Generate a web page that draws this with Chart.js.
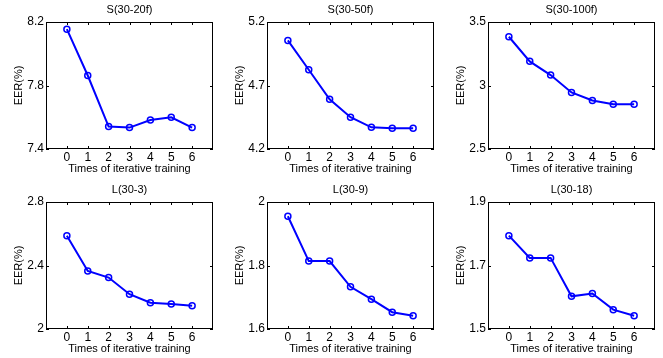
<!DOCTYPE html>
<html>
<head>
<meta charset="utf-8">
<script src="https://cdn.jsdelivr.net/npm/chart.js@4"></script>
<style>
  body { margin: 0; background: #fff; }
  #wrap { position: relative; width: 663px; height: 358px; overflow: hidden; }
  .cell { position: absolute; width: 221px; height: 179px; }
</style>
</head>
<body>
<div id="wrap">
  <div class="cell" style="left:0;top:0"><canvas id="c0" width="221" height="179"></canvas></div>
  <div class="cell" style="left:221px;top:0"><canvas id="c1" width="221" height="179"></canvas></div>
  <div class="cell" style="left:442px;top:0"><canvas id="c2" width="221" height="179"></canvas></div>
  <div class="cell" style="left:0;top:180px"><canvas id="c3" width="221" height="179"></canvas></div>
  <div class="cell" style="left:221px;top:180px"><canvas id="c4" width="221" height="179"></canvas></div>
  <div class="cell" style="left:442px;top:180px"><canvas id="c5" width="221" height="179"></canvas></div>
</div>
<script>
/* ===============================
   DATA
================================ */
const iterations = [0, 1, 2, 3, 4, 5, 6];
const titles = ["S(30-20f)", "S(30-50f)", "S(30-100f)", "L(30-3)", "L(30-9)", "L(30-18)"];

const eerS20 = [8.155, 7.863, 7.541, 7.535, 7.583, 7.600, 7.535];
const eerS50 = [5.055, 4.824, 4.592, 4.450, 4.371, 4.363, 4.363];
const eerS100 = [3.384, 3.190, 3.082, 2.945, 2.882, 2.853, 2.853];
const eerL3 = [2.587, 2.366, 2.324, 2.219, 2.166, 2.158, 2.147];
const eerL9 = [1.955, 1.814, 1.814, 1.733, 1.694, 1.653, 1.642];
const eerL18 = [1.794, 1.724, 1.724, 1.603, 1.612, 1.561, 1.542];

const yTicksS20 = [7.4, 7.8, 8.2];
const yTicksS50 = [4.2, 4.7, 5.2];
const yTicksS100 = [2.5, 3, 3.5];
const yTicksL3 = [2, 2.4, 2.8];
const yTicksL9 = [1.6, 1.8, 2];
const yTicksL18 = [1.5, 1.7, 1.9];

const series = [eerS20, eerS50, eerS100, eerL3, eerL9, eerL18];
const yTicks = [yTicksS20, yTicksS50, yTicksS100, yTicksL3, yTicksL9, yTicksL18];

Chart.defaults.font.family = '"Liberation Sans", Arial, sans-serif';
Chart.defaults.font.size = 11;
Chart.defaults.color = "#000";

/* ===============================
   BOX + INWARD TICKS + TITLE
================================ */
const matlabBox = {
  id: "matlabBox",
  afterDraw(chart, args, opts) {
    const { ctx, chartArea: a, scales: { x, y } } = chart;
    ctx.save();
    ctx.strokeStyle = "#000";
    ctx.lineWidth = 1;
    ctx.strokeRect(a.left + 0.5, a.top + 0.5, a.right - a.left - 1, a.bottom - a.top - 1);
    ctx.beginPath();
    x.ticks.forEach(t => {
      const px = Math.round(x.getPixelForValue(t.value)) + 0.5;
      ctx.moveTo(px, a.bottom); ctx.lineTo(px, a.bottom - 3);
      ctx.moveTo(px, a.top); ctx.lineTo(px, a.top + 3);
    });
    y.ticks.forEach(t => {
      const py = Math.round(y.getPixelForValue(t.value)) + 0.5;
      ctx.moveTo(a.left, py); ctx.lineTo(a.left + 3, py);
      ctx.moveTo(a.right, py); ctx.lineTo(a.right - 3, py);
    });
    ctx.stroke();
    // subplot title
    ctx.fillStyle = "#000";
    ctx.font = '11px "Liberation Sans", Arial, sans-serif';
    ctx.textAlign = "center";
    ctx.textBaseline = "middle";
    ctx.fillText(opts.title, (a.left + a.right) / 2, 10);
    ctx.restore();
  }
};

/* ===============================
   SIX SUBPLOTS
================================ */
series.forEach((vals, i) => {
  const ticks = yTicks[i];
  new Chart(document.getElementById("c" + i), {
    type: "line",
    data: {
      datasets: [{
        data: iterations.map((v, k) => ({ x: v, y: vals[k] })),
        borderColor: "#0000ff",
        borderWidth: 2,
        pointStyle: "circle",
        pointRadius: 3,
        pointBorderWidth: 1.5,
        pointBackgroundColor: "rgba(0,0,0,0)",
        pointBorderColor: "#0000ff",
        tension: 0,
      }],
    },
    options: {
      responsive: false,
      animation: false,
      layout: { padding: { left: 0, right: 8, top: 22, bottom: 0 } },
      plugins: {
        legend: { display: false },
        tooltip: { enabled: false },
        matlabBox: { title: titles[i] },
      },
      scales: {
        x: {
          type: "linear",
          min: -1,
          max: 7,
          grid: { display: false, drawTicks: false },
          border: { display: false },
          afterBuildTicks: s => { s.ticks = iterations.map(v => ({ value: v })); },
          afterFit: s => { s.height = 30; },
          ticks: { padding: 1, font: { size: 12 }, callback: v => String(v) },
          title: { display: true, text: "Times of iterative training", padding: { top: 0, bottom: 3 } },
        },
        y: {
          min: ticks[0],
          max: ticks[ticks.length - 1],
          grid: { display: false, drawTicks: false },
          border: { display: false },
          afterBuildTicks: s => { s.ticks = ticks.map(v => ({ value: v })); },
          afterFit: s => { s.width = 46; },
          ticks: { padding: 2, font: { size: 12 }, callback: v => String(v) },
          title: { display: true, text: "EER(%)", padding: { top: 12, bottom: 0 } },
        },
      },
    },
    plugins: [matlabBox],
  });
});
</script>
</body>
</html>
